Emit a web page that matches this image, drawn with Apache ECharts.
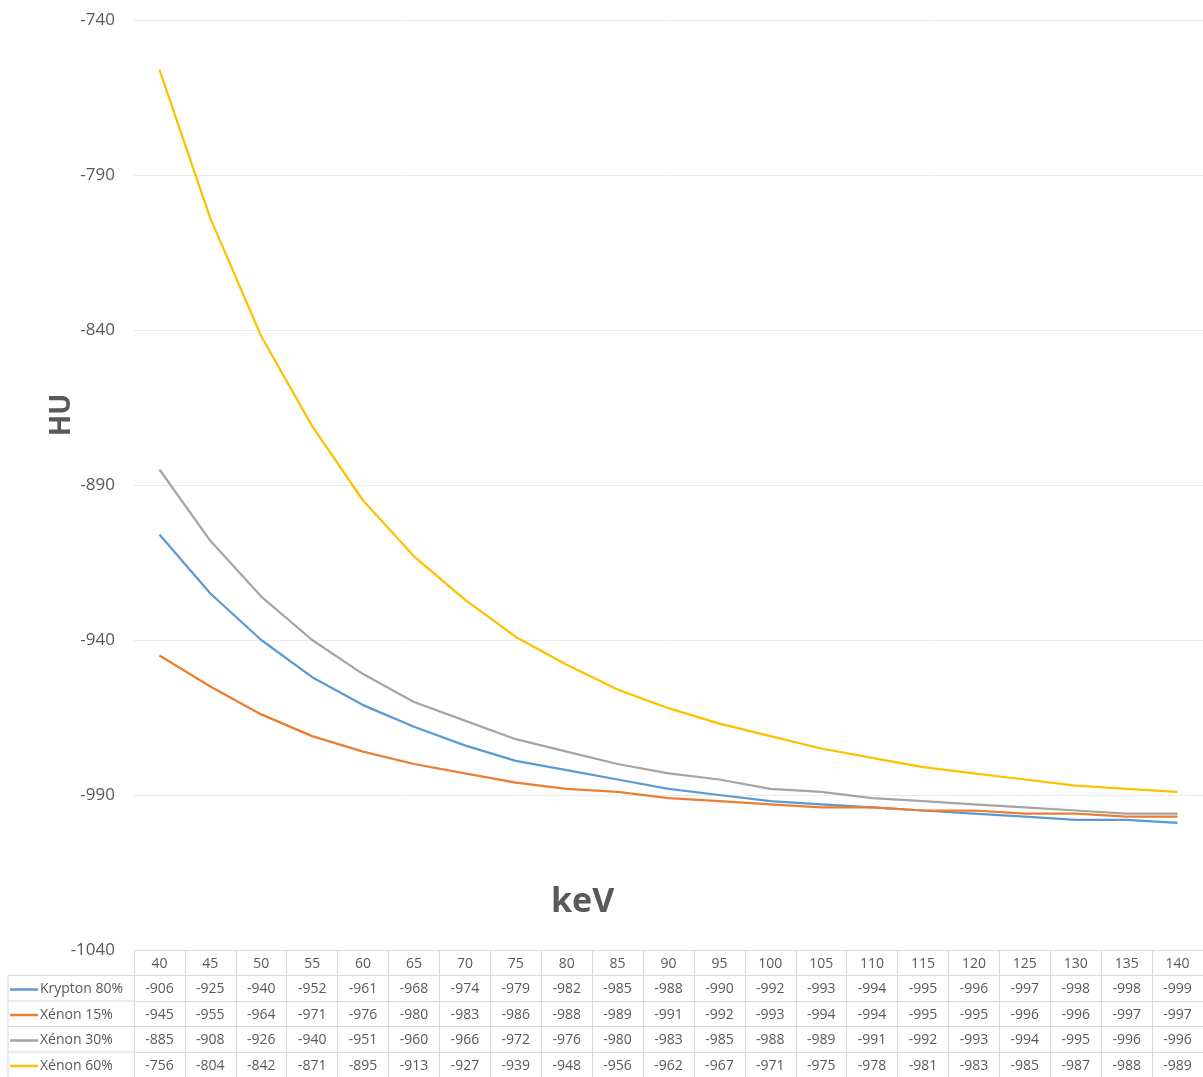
<!DOCTYPE html>
<html>
<head>
<meta charset="utf-8">
<script src="https://cdn.jsdelivr.net/npm/echarts@6/dist/echarts.min.js"></script>
<style>
  html, body { margin: 0; padding: 0; background: #fff; }
  #chart { width: 1203px; height: 1077px; }
</style>
</head>
<body>
<div id="chart"></div>
<script>
// keV steps
const kev = ['40','45','50','55','60','65','70','75','80','85','90','95','100','105','110','115','120','125','130','135','140'];

const seriesNames = ['Krypton 80%', 'Xénon 15%', 'Xénon 30%', 'Xénon 60%'];
const krypton80 = [-906,-925,-940,-952,-961,-968,-974,-979,-982,-985,-988,-990,-992,-993,-994,-995,-996,-997,-998,-998,-999];
const xenon15   = [-945,-955,-964,-971,-976,-980,-983,-986,-988,-989,-991,-992,-993,-994,-994,-995,-995,-996,-996,-997,-997];
const xenon30   = [-885,-908,-926,-940,-951,-960,-966,-972,-976,-980,-983,-985,-988,-989,-991,-992,-993,-994,-995,-996,-996];
const xenon60   = [-756,-804,-842,-871,-895,-913,-927,-939,-948,-956,-962,-967,-971,-975,-978,-981,-983,-985,-987,-988,-989];
const colors = ['#5b9bd5', '#ed7d31', '#a5a5a5', '#ffc000'];
const rows = [krypton80, xenon15, xenon30, xenon60];

const TXT = '#595959';
const BORDER = '#d9d9d9';
const FONT = 'Open Sans';
const ROW_H = 25.5;
const GRID_LEFT = 134;
const GRID_TOP = 20;
const GRID_BOTTOM_Y = 950;

const chart = echarts.init(document.getElementById('chart'));

// data table: one extra category axis per row, stacked with offset
const xAxes = [{
    type: 'category',
    data: kev,
    position: 'bottom',
    axisLine: { lineStyle: { color: BORDER, width: 1 } },
    axisTick: { show: true, interval: 0, length: ROW_H, lineStyle: { color: BORDER } },
    axisLabel: { interval: 0, margin: 7, color: TXT, fontSize: 14, fontFamily: FONT }
}];
rows.forEach((r, k) => {
    xAxes.push({
        type: 'category',
        data: kev,
        position: 'bottom',
        offset: ROW_H * (k + 1),
        axisLine: { lineStyle: { color: BORDER, width: 1 } },
        axisTick: { show: true, interval: 0, length: ROW_H, lineStyle: { color: BORDER } },
        axisLabel: {
            interval: 0, margin: 7, color: TXT, fontSize: 14, fontFamily: FONT,
            formatter: (v, i) => String(r[i])
        }
    });
});

// left column borders of the table
const cellLines = [];
const tableTop = GRID_BOTTOM_Y + ROW_H;
for (let k = 0; k <= rows.length; k++) {
    cellLines.push({
        type: 'line',
        shape: { x1: 8, y1: tableTop + k * ROW_H, x2: GRID_LEFT, y2: tableTop + k * ROW_H },
        style: { stroke: BORDER, lineWidth: 1 }
    });
}
cellLines.push({
    type: 'line',
    shape: { x1: 8, y1: tableTop, x2: 8, y2: tableTop + rows.length * ROW_H },
    style: { stroke: BORDER, lineWidth: 1 }
});

chart.setOption({
    animation: false,
    color: colors,
    title: {
        text: 'keV',
        left: 546,
        top: 880,
        textStyle: { fontSize: 34, fontWeight: 'bold', color: TXT, fontFamily: FONT }
    },
    legend: {
        orient: 'vertical',
        left: 10,
        top: tableTop + 7,
        padding: 0,
        itemGap: ROW_H - 14,
        itemWidth: 28,
        itemHeight: 2.5,
        icon: 'rect',
        data: seriesNames,
        selectedMode: false,
        textStyle: { fontSize: 14, lineHeight: 14, color: TXT, fontFamily: FONT, padding: [0, 0, 0, -3] }
    },
    grid: {
        left: GRID_LEFT,
        right: 0,
        top: GRID_TOP,
        bottom: 1077 - GRID_BOTTOM_Y
    },
    xAxis: xAxes,
    yAxis: {
        type: 'value',
        min: -1040,
        max: -740,
        interval: 50,
        axisLine: { show: false },
        axisTick: { show: false },
        splitLine: { lineStyle: { color: '#ebebeb', width: 1 } },
        axisLabel: { margin: 19, color: TXT, fontSize: 17, fontFamily: FONT, formatter: v => String(v) }
    },
    graphic: [
        {
            type: 'text',
            x: 62,
            y: 415,
            rotation: Math.PI / 2,
            style: {
                text: 'HU',
                fill: TXT,
                font: 'bold 28px "Open Sans"',
                align: 'center',
                verticalAlign: 'middle'
            }
        }
    ].concat(cellLines),
    series: seriesNames.map((name, k) => ({
        name: name,
        type: 'line',
        data: rows[k],
        symbol: 'none',
        lineStyle: { width: 2.25, color: colors[k] },
        itemStyle: { color: colors[k] }
    }))
});
</script>
</body>
</html>
